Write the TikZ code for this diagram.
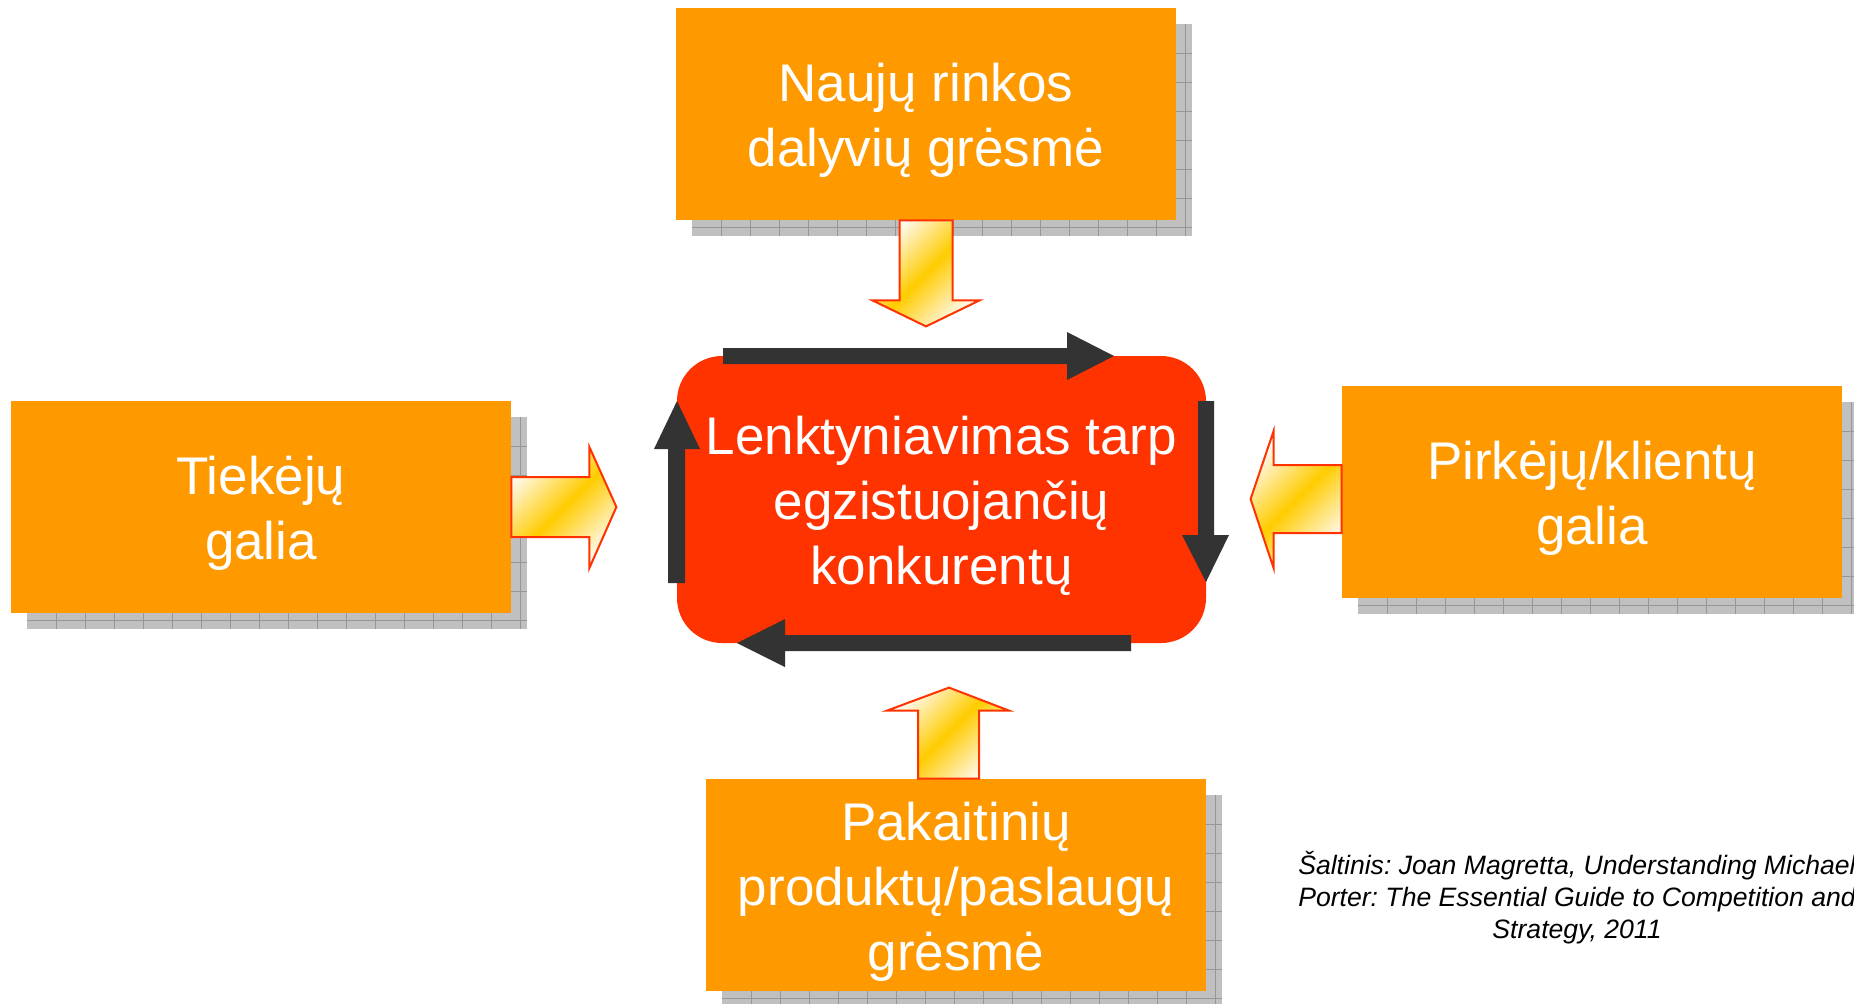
\documentclass[tikz,border=0pt]{standalone}
\usepackage{fontspec}
\setmainfont{Liberation Sans}
\usetikzlibrary{calc}

\definecolor{boxorange}{RGB}{255,153,0}
\definecolor{corered}{RGB}{255,51,0}
\definecolor{cycledark}{RGB}{51,51,51}
\definecolor{arrowgold}{RGB}{255,204,0}
\definecolor{arrowpale}{RGB}{255,250,242}
\definecolor{arrowedge}{RGB}{255,51,0}
\definecolor{shadowgray}{RGB}{192,192,192}
\definecolor{shadowline}{RGB}{150,150,150}

\newcommand\firstlinestrut{\rule{0pt}{25.5pt}}

\newcommand\boxshadow[4]{%
  \fill[shadowgray] (#1,#2) rectangle (#3,#4);
  \begin{scope}
    \clip (#1,#2) rectangle (#3,#4);
    \foreach \k in {1,...,18}{
      \draw[shadowline, line width=0.5pt] ({#1+29*\k},#2) -- ({#1+29*\k},#4);
    }
    \foreach \k in {1,...,8}{
      \draw[shadowline, line width=0.5pt] (#1,{#2+29*\k}) -- (#3,{#2+29*\k});
    }
  \end{scope}}

\begin{document}
\begin{tikzpicture}[x=0.5pt,y=-0.5pt,
  forcebox/.style={fill=boxorange, text=white, minimum width=250pt, minimum height=106pt,
    inner sep=0pt, align=center, font=\fontsize{26.5}{32.5}\selectfont},
  corebox/.style={fill=corered, text=white, minimum width=264.5pt, minimum height=143.5pt,
    rounded corners=22.5pt, inner sep=0pt, align=center, font=\fontsize{26.5}{32.5}\selectfont},
  blockarrow/.style={draw=arrowedge, line width=1pt, line join=miter,
    top color=arrowpale, bottom color=arrowpale, middle color=arrowgold, shading angle=45},
  cyclearrow/.style={fill=cycledark},
  caption/.style={text=black, align=center, inner sep=0pt, font=\frenchspacing\itshape\fontsize{13.3}{16}\selectfont}]
\useasboundingbox (0,0) rectangle (1854,1003);
\fill[white] (0,0) rectangle (1854,1003);

% shadows
\boxshadow{692}{24}{1192}{236}
\boxshadow{27}{417}{527}{629}
\boxshadow{1358}{402}{1858}{614}
\boxshadow{722}{795}{1222}{1007}

% boxes
\node[forcebox] (entrants) at (926,114) {\firstlinestrut Naujų rinkos\\dalyvių grėsmė};
\node[forcebox] (suppliers) at (261,507) {\firstlinestrut Tiekėjų\\galia};
\node[forcebox] (buyers) at (1592,492) {\firstlinestrut Pirkėjų/klientų\\galia};
\node[forcebox] (substitutes) at (956,885) {\firstlinestrut Pakaitinių\\produktų/paslaugų\\grėsmė};
\node[corebox] (rivalry) at (941.5,499.5) {\firstlinestrut Lenktyniavimas tarp\\egzistuojančių\\konkurentų};

% block arrows
\begin{scope}[shift={(entrants.south)}]
  \shade[blockarrow] (-26.5,0) -- (26.5,0) -- (26.5,80) -- (53.5,80) -- (0,106) -- (-53.5,80) -- (-26.5,80) -- cycle;
\end{scope}
\begin{scope}[shift={(substitutes.north)}]
  \shade[blockarrow] (-38,0) -- (23,0) -- (23,-68) -- (53,-68) -- (-7,-91) -- (-69,-68) -- (-38,-68) -- cycle;
\end{scope}
\begin{scope}[shift={(suppliers.east)}]
  \shade[blockarrow] (0,-30) -- (78,-30) -- (78,-60) -- (105,0) -- (78,61) -- (78,30) -- (0,30) -- cycle;
\end{scope}
\begin{scope}[shift={(buyers.west)}]
  \shade[blockarrow] (0,-27) -- (-68,-27) -- (-68,-61) -- (-91,7) -- (-68,76) -- (-68,41) -- (0,41) -- cycle;
\end{scope}

% cycle arrows around the rivalry box
\begin{scope}[shift={(rivalry.center)}]
  \fill[cyclearrow] (-218.5,-151.5) -- (125.5,-151.5) -- (125.5,-167.5) -- (172.5,-143.5) -- (125.5,-119.5) -- (125.5,-135.5) -- (-218.5,-135.5) -- cycle;
  \fill[cyclearrow] (256.5,-98.5) -- (272.5,-98.5) -- (272.5,35.5) -- (287.5,35.5) -- (264.5,82.5) -- (240.5,35.5) -- (256.5,35.5) -- cycle;
  \fill[cyclearrow] (189.5,135.5) -- (189.5,151.5) -- (-156.5,151.5) -- (-156.5,167.5) -- (-204.5,143.5) -- (-156.5,119.5) -- (-156.5,135.5) -- cycle;
  \fill[cyclearrow] (-273.5,83.5) -- (-256.5,83.5) -- (-256.5,-50.5) -- (-241.5,-50.5) -- (-264.5,-98.5) -- (-287.5,-50.5) -- (-273.5,-50.5) -- cycle;
\end{scope}

% source
\node[caption] (source) at (1577,898) {Šaltinis: Joan Magretta, Understanding Michael\\Porter: The Essential Guide to Competition and\\Strategy, 2011};
\end{tikzpicture}
\end{document}
